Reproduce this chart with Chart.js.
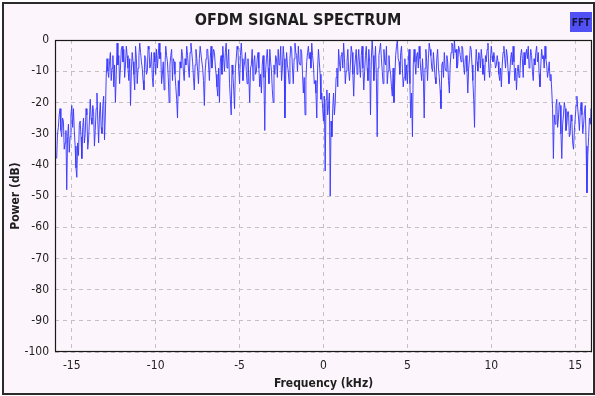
<!DOCTYPE html>
<html>
<head>
<meta charset="utf-8">
<script src="https://cdn.jsdelivr.net/npm/chart.js@4.4.1/dist/chart.umd.min.js"></script>
<style>
  html, body { margin: 0; padding: 0; background: #fff; }
  #wrap { width: 595px; height: 396px; }
</style>
</head>
<body>
<div id="wrap"><canvas id="spectrum" width="595" height="396"></canvas></div>
<script>
// FFT bins (kHz)
const binStart = -15.9;
const binStep = 0.05;

// power per bin (dB), one row = 1 kHz
const powerDb = [
  -38, -30, -28, -24, -22, -29, -31, -25, -26, -35, -33, -29, -48, -31, -27, -36, -31, -24, -21, -28,  // -15.9
  -22, -29, -34, -41, -44, -33, -37, -27, -26, -31, -38, -28, -25, -33, -30, -22, -24, -35, -32, -26,  // -14.9
  -19, -25, -27, -21, -23, -34, -29, -22, -17, -26, -33, -24, -20, -28, -30, -21, -18, -32, -24, -12,  // -13.9
  -6, -10, -12, -7, -4, -13, -9, -5, -15, -8, -20, -11, -1, -8, -5, -14, -9, -3, -2, -7,              // -12.9
  -3, -12, -8, -2, -5, -9, -13, -6, -21, -10, -4, -7, -11, -16, -2, -6, -14, -9, -5, -1,              // -11.9
  -4, -7, -9, -13, -16, -5, -6, -11, -10, -2, -3, -9, -8, -4, -12, -15, -4, -7, -11, -3,              // -10.9
  -9, -5, -1, -6, -4, -14, -11, -7, -16, -9, -2, -5, -7, -12, -20, -8, -5, -3, -13, -6,               // -9.9
  -7, -11, -15, -19, -25, -13, -18, -7, -9, -3, -5, -10, -13, -6, -8, -2, -5, -9, -12, -4,            // -8.9
  -1, -4, -7, -12, -16, -8, -3, -6, -10, -14, -6, -2, -2, -7, -9, -13, -21, -10, -6, -3,              // -7.9
  -3, -8, -13, -6, -2, -9, -6, -3, -4, -8, -11, -15, -18, -9, -20, -7, -5, -11, -2, -6,               // -6.9
  -10, -4, -1, -9, -7, -3, -14, -19, -24, -8, -11, -16, -22, -9, -6, -2, -3, -10, -14, -5,            // -5.9
  -1, -6, -13, -9, -7, -4, -10, -14, -6, -12, -20, -9, -8, -3, -13, -7, -5, -11, -10, -6,             // -4.9
  -4, -9, -15, -11, -17, -8, -5, -12, -29, -10, -6, -3, -9, -14, -3, -7, -10, -16, -20, -8,           // -3.9
  -11, -5, -6, -12, -3, -8, -7, -2, -13, -9, -2, -6, -25, -11, -4, -8, -10, -14, -6, -2,              // -2.9
  -3, -9, -14, -6, -1, -4, -5, -10, -2, -7, -8, -3, -4, -11, -17, -12, -24, -13, -7, -4,              // -1.9
  -2, -6, -4, -9, -1, -5, -8, -14, -13, -17, -25, -9, -3, -7, -11, -19, -17, -22, -26, -18,           // -0.9
  -42, -19, -16, -24, -21, -17, -50, -26, -31, -22, -17, -24, -20, -12, -9, -15, -3, -7, -10, -5,     // 0.1
  -4, -9, -1, -6, -14, -10, -7, -3, -10, -13, -8, -2, -4, -11, -18, -9, -6, -3, -11, -7,              // 1.1
  -3, -8, -12, -5, -2, -9, -16, -10, -5, -2, -9, -13, -3, -7, -24, -6, 0, -5, -13, -8,                // 2.1
  -2, -12, -31, -9, -5, -3, -1, -6, -10, -14, -3, -7, -8, -2, -14, -10, -5, -9, -11, -15,             // 3.1
  -18, -9, -20, -12, -5, -2, 0, -6, -7, -11, -4, -2, -9, -15, -12, -6, -13, -8, -14, -7,              // 4.1
  -3, -14, -25, -17, -31, -8, -3, -7, -11, -5, -4, -9, -2, -6, -10, -13, -6, -12, -25, -9,            // 5.1
  -3, -7, -13, -6, -1, -3, -5, -9, -10, -4, -8, -12, -14, -6, -3, -9, -12, -16, -22, -8,              // 6.1
  -7, -12, -4, -9, -10, -5, -7, -13, -17, -8, -4, -1, -2, -6, 0, -4, -3, -9, -8, -2,                  // 7.1
  -3, -5, -7, -2, -3, -8, -11, -6, -5, -10, -17, -9, -6, -2, -3, -8, -13, -19, -28, -10,              // 8.1
  -3, -7, -10, -4, -5, -9, -3, -6, -11, -8, -13, -5, -7, -3, -1, -9, -12, -6, -2, -5,                 // 9.1
  -7, -4, -6, -9, -8, -5, -7, -11, -13, -9, -15, -8, -4, -2, -6, -9, -3, -5, -10, -14,                // 10.1
  -11, -6, -4, -8, -2, -7, -13, -9, -16, -10, -8, -12, -11, -5, -3, -6, -12, -4, -8, -5,              // 11.1
  -3, -6, -2, -9, -7, -3, -5, -10, -13, -6, -8, -4, -2, -7, -4, -11, -15, -8, -3, -6,                 // 12.1
  -5, -9, -2, -6, -8, -12, -10, -7, -13, -11, -16, -22, -38, -24, -27, -21, -19, -28, -25, -20,       // 13.1
  -21, -30, -38, -27, -24, -20, -22, -29, -27, -23, -23, -31, -30, -24, -26, -33, -35, -29, -25, -21, // 14.1
  -18, -22, -25, -29, -23, -20, -24, -30, -27, -23, -21, -34, -49, -37, -31, -25, -27, -22, -26       // 15.1 .. 16.0
];

const freqTicks = [-15, -10, -5, 0, 5, 10, 15];
const powerTicks = [0, -10, -20, -30, -40, -50, -60, -70, -80, -90, -100];

const BG = "#fcf5fb";
const LINE = "rgba(55, 55, 255, 0.92)";
const FONT = "'DejaVu Sans Condensed', 'DejaVu Sans', sans-serif";

const points = powerDb.map((v, i) => ({ x: binStart + i * binStep, y: v }));

// background, outer frame, plot box and the FFT tag
const decor = {
    id: "decor",
    beforeDraw(chart) {
        const ctx = chart.ctx;
        ctx.save();
        ctx.fillStyle = "#fff";
        ctx.fillRect(0, 0, chart.width, chart.height);
        ctx.fillStyle = BG;
        ctx.fillRect(3, 3, chart.width - 6, chart.height - 6);
        ctx.strokeStyle = "#2b2b2b";
        ctx.lineWidth = 2;
        ctx.strokeRect(3, 3, chart.width - 4, chart.height - 5);
        ctx.restore();
    },
    afterDatasetsDraw(chart) {
        const { ctx, chartArea: a } = chart;
        ctx.save();
        ctx.strokeStyle = "#1a1a1a";
        ctx.lineWidth = 1.2;
        ctx.strokeRect(a.left + 0.5, a.top + 0.5, a.right - a.left - 1, a.bottom - a.top - 1);
        ctx.restore();
    },
    afterDraw(chart) {
        const { ctx, chartArea: a } = chart;
        const w = 22, h = 20;
        const x = a.right - w, y = 12;
        ctx.save();
        ctx.fillStyle = "#5050f4";
        ctx.fillRect(x, y, w, h);
        ctx.fillStyle = "#14143c";
        ctx.font = "bold 10px " + FONT;
        ctx.textAlign = "center";
        ctx.textBaseline = "middle";
        ctx.fillText("FFT", x + w / 2, y + h / 2 + 1);
        ctx.restore();
    }
};

const ctx = document.getElementById("spectrum");

new Chart(ctx, {
    type: "line",
    data: {
        datasets: [{
            label: "FFT",
            data: points,
            borderColor: LINE,
            backgroundColor: LINE,
            borderWidth: 1,
            pointRadius: 0,
            tension: 0,
            fill: false
        }]
    },
    options: {
        responsive: false,
        animation: false,
        layout: {
            padding: { left: 4, right: 3, top: 4, bottom: 4 }
        },
        plugins: {
            legend: { display: false },
            tooltip: { enabled: false },
            title: {
                display: true,
                text: "OFDM SIGNAL SPECTRUM",
                color: "#1e1e1e",
                font: { family: FONT, size: 16, weight: "bold" },
                padding: { top: 7, bottom: 9.8 }
            }
        },
        scales: {
            x: {
                type: "linear",
                min: -16,
                max: 16,
                afterBuildTicks: s => { s.ticks = freqTicks.map(v => ({ value: v })) },
                afterFit: s => { s.height = 40 },
                ticks: {
                    color: "#222",
                    font: { family: FONT, size: 12 },
                    padding: 7,
                    maxRotation: 0
                },
                grid: { color: "#c2c2c2", lineWidth: 1, drawTicks: false },
                border: { display: false, dash: [4, 4] },
                title: {
                    display: true,
                    text: "Frequency (kHz)",
                    color: "#1e1e1e",
                    font: { family: FONT, size: 12, weight: "bold" },
                    padding: { top: 0, bottom: 1 }
                }
            },
            y: {
                min: -100,
                max: 0,
                afterBuildTicks: s => { s.ticks = powerTicks.map(v => ({ value: v })) },
                afterFit: s => { s.width = 51 },
                ticks: {
                    color: "#222",
                    font: { family: FONT, size: 12 },
                    padding: 6
                },
                grid: { color: "#c2c2c2", lineWidth: 1, drawTicks: false },
                border: { display: false, dash: [4, 4] },
                title: {
                    display: true,
                    text: "Power (dB)",
                    color: "#1e1e1e",
                    font: { family: FONT, size: 12, weight: "bold" },
                    padding: { top: 5, bottom: 0 }
                }
            }
        }
    },
    plugins: [decor]
});
</script>
</body>
</html>
